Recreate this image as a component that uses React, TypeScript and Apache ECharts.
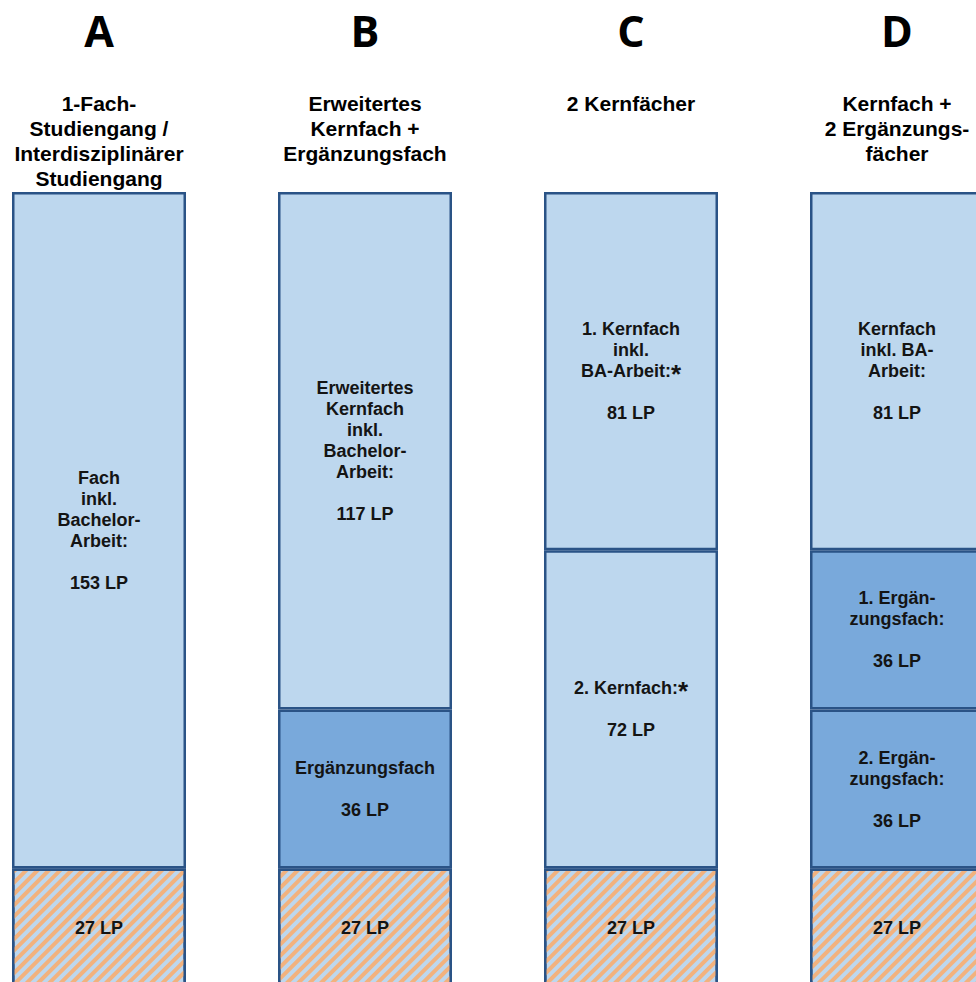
import React, { useEffect, useRef } from "react";
import * as echarts from "echarts";

// ---- data ----
const columns = ["A", "B", "C", "D"];
const programTitles = [
  "1-Fach-\nStudiengang /\nInterdisziplinärer\nStudiengang",
  "Erweitertes\nKernfach +\nErgänzungsfach",
  "2 Kernfächer",
  "Kernfach +\n2 Ergänzungs-\nfächer",
];

// bottom block (hatched), in LP
const baseLP = [27, 27, 27, 27];
const baseNames = ["", "", "", ""];

// stacked blocks from bottom to top, in LP
const layer1LP = [153, 36, 72, 36];
const layer1Names = [
  "Fach\ninkl.\nBachelor-\nArbeit:",
  "Ergänzungsfach",
  "2. Kernfach:{a|*}",
  "2. Ergän-\nzungsfach:",
];
const layer1Kind = ["core", "minor", "core", "minor"];

const layer2LP = [null, 117, 81, 36];
const layer2Names = [
  "",
  "Erweitertes\nKernfach\ninkl.\nBachelor-\nArbeit:",
  "1. Kernfach\ninkl.\nBA-Arbeit:{a|*}",
  "1. Ergän-\nzungsfach:",
];
const layer2Kind = ["", "core", "core", "minor"];

const layer3LP = [null, null, null, 81];
const layer3Names = ["", "", "", "Kernfach\ninkl. BA-\nArbeit:"];
const layer3Kind = ["", "", "", "core"];

// ---- styles ----
const CORE = "#BDD7EE";
const MINOR = "#79A9DB";
const BORDER = "#2A5386";
const HATCH = "#F2B27E";
const TEXT = "#141414";

function labelText(name: string, lp: number | null) {
  if (lp == null) return "";
  return name ? `${name}\n\n${lp} LP` : `${lp} LP`;
}

function buildLayer(values: (number | null)[], names: string[], kinds: string[], id: string) {
  return {
    name: id,
    type: "bar",
    stack: "total",
    barWidth: 174,
    data: values.map((v, i) => ({
      value: v,
      itemStyle: { color: kinds[i] === "minor" ? MINOR : CORE },
    })),
    itemStyle: { borderColor: BORDER, borderWidth: 2.5 },
    label: {
      show: true,
      position: "inside",
      color: TEXT,
      fontFamily: "Liberation Sans",
      fontWeight: "bold",
      fontSize: 18,
      lineHeight: 21,
      align: "center",
      formatter: (p: any) => labelText(names[p.dataIndex], values[p.dataIndex]),
      rich: {
        a: {
          fontSize: 26,
          fontWeight: "bold",
          fontFamily: "Liberation Sans",
          color: TEXT,
          verticalAlign: "top",
          lineHeight: 21,
          padding: [0, 0, 10, 0],
        },
      },
    },
  };
}

export default function App() {
  const ref = useRef<HTMLDivElement>(null);
  useEffect(() => {
    if (!ref.current) return;
    const chart = echarts.init(ref.current, null, { renderer: "svg" });
    const option: any = {
      animation: false,
      backgroundColor: "#ffffff",
      grid: { left: 0, right: 0, top: 192, bottom: 0 },
      xAxis: {
        type: "category",
        data: columns,
        position: "top",
        axisLine: { show: false },
        axisTick: { show: false },
        axisLabel: {
          interval: 0,
          margin: 190,
          verticalAlign: "top",
          align: "center",
          formatter: (v: string, i: number) => {
            const lines = programTitles[i].split("\n").map((l) => `{s|${l}}`).join("\n");
            return `{l|${v}}\n{g| }\n${lines}`;
          },
          rich: {
            l: {
              fontFamily: "Open Sans",
              fontWeight: "bold",
              fontSize: 43,
              lineHeight: 56,
              color: "#000",
              align: "center",
            },
            g: { fontSize: 10, lineHeight: 33 },
            s: {
              fontFamily: "Liberation Sans",
              fontWeight: "bold",
              fontSize: 21,
              lineHeight: 25,
              color: "#000",
              align: "center",
            },
          },
        },
      },
      yAxis: { type: "value", min: 0, max: 180, show: false },
      series: [
        {
          name: "base",
          type: "bar",
          stack: "total",
          barWidth: 174,
          data: baseLP,
          itemStyle: {
            color: CORE,
            borderColor: BORDER,
            borderWidth: 2.5,
            decal: {
              symbol: "rect",
              symbolSize: 1,
              color: HATCH,
              dashArrayX: [1, 0],
              dashArrayY: [4, 4],
              rotation: -Math.PI / 4,
            },
          },
          label: {
            show: true,
            position: "inside",
            color: TEXT,
            fontFamily: "Liberation Sans",
            fontWeight: "bold",
            fontSize: 18,
            formatter: (p: any) => labelText(baseNames[p.dataIndex], baseLP[p.dataIndex]),
          },
        },
        buildLayer(layer1LP, layer1Names, layer1Kind, "layer1"),
        buildLayer(layer2LP, layer2Names, layer2Kind, "layer2"),
        buildLayer(layer3LP, layer3Names, layer3Kind, "layer3"),
      ],
    };
    chart.setOption(option);
    return () => chart.dispose();
  }, []);
  return (
    <div style={{ position: "fixed", left: 0, top: 0, width: 976, height: 982, overflow: "hidden" }}>
      <div
        ref={ref}
        style={{ position: "absolute", left: -34, top: 0, width: 1064, height: 988 }}
      />
    </div>
  );
}
